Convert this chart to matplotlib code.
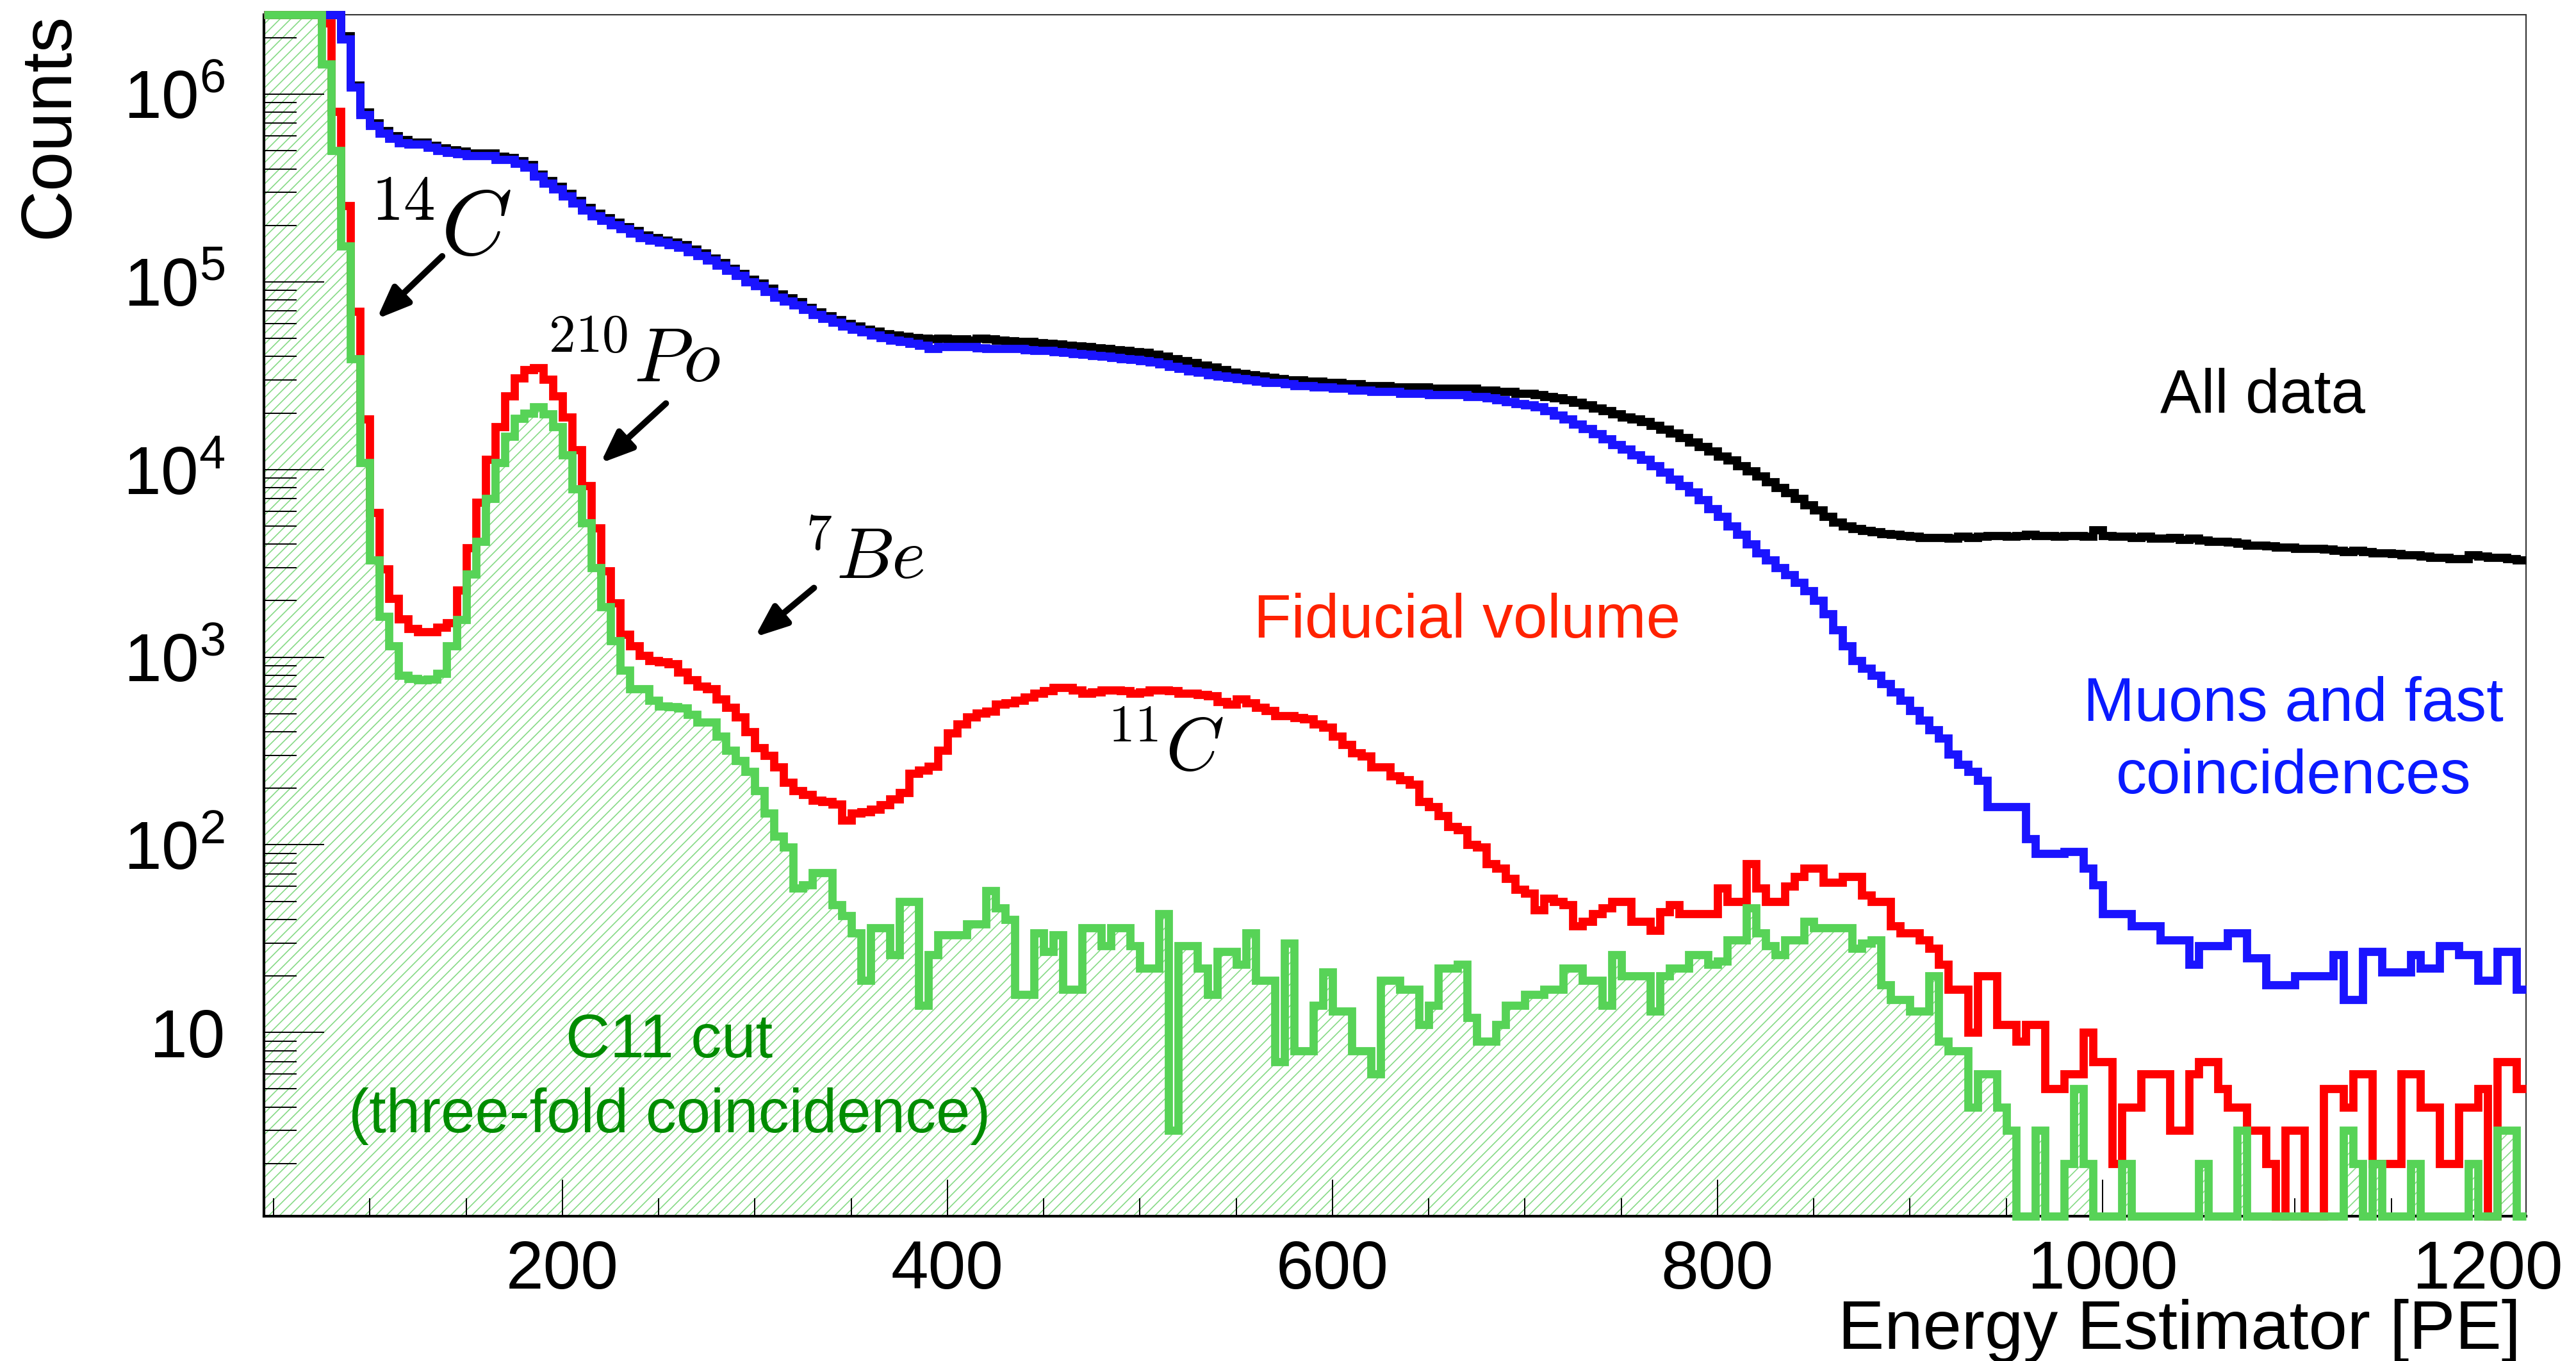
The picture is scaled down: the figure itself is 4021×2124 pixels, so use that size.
import numpy as np
import matplotlib
matplotlib.use("Agg")
import matplotlib.pyplot as plt
from matplotlib.ticker import FixedLocator, FuncFormatter, NullFormatter

plt.rcParams['font.family'] = ['Liberation Sans', 'DejaVu Sans']
plt.rcParams['mathtext.fontset'] = 'cm'
plt.rcParams['hatch.linewidth'] = 1.2
plt.rcParams['hatch.color'] = '#86da86'

# Histogram binning: 5 PE bins starting at 45 PE
FIRST_EDGE = 45
BIN_WIDTH = 5

# Counts per bin (rows of 10 bins = 50 PE); bins above the frame are stored large
all_data = [
    5e6, 5e6, 5e6, 5e6, 5e6, 5e6, 5e6, 5e6, 2.05e6, 1.12e6,
    8.0e5, 7.0e5, 6.4e5, 6.0e5, 5.7e5, 5.55e5, 5.55e5, 5.35e5, 5.15e5, 5.05e5,
    4.95e5, 4.85e5, 4.85e5, 4.85e5, 4.65e5, 4.6e5, 4.4e5, 4.2e5, 3.75e5, 3.45e5,
    3.22e5, 2.95e5, 2.7e5, 2.48e5, 2.32e5, 2.19e5, 2.07e5, 1.97e5, 1.87e5, 1.77e5,
    1.72e5, 1.67e5, 1.62e5, 1.57e5, 1.49e5, 1.42e5, 1.34e5, 1.26e5, 1.18e5, 1.11e5,
    1.03e5, 9.8e4, 9.2e4, 8.6e4, 8.2e4, 7.8e4, 7.3e4, 6.9e4, 6.6e4, 6.3e4,
    6.0e4, 5.8e4, 5.6e4, 5.45e4, 5.3e4, 5.2e4, 5.1e4, 5.05e4, 5.0e4, 4.95e4,
    5.0e4, 4.95e4, 4.95e4, 4.9e4, 5.0e4, 4.95e4, 4.9e4, 4.85e4, 4.8e4, 4.8e4,
    4.75e4, 4.7e4, 4.65e4, 4.6e4, 4.55e4, 4.5e4, 4.45e4, 4.4e4, 4.35e4, 4.3e4,
    4.25e4, 4.2e4, 4.1e4, 4.0e4, 3.9e4, 3.8e4, 3.7e4, 3.6e4, 3.5e4, 3.4e4,
    3.3e4, 3.25e4, 3.2e4, 3.15e4, 3.1e4, 3.05e4, 3.0e4, 3.0e4, 2.95e4, 2.95e4,
    2.9e4, 2.9e4, 2.85e4, 2.85e4, 2.8e4, 2.8e4, 2.8e4, 2.75e4, 2.75e4, 2.75e4,
    2.75e4, 2.7e4, 2.7e4, 2.7e4, 2.7e4, 2.7e4, 2.65e4, 2.65e4, 2.6e4, 2.6e4,
    2.55e4, 2.55e4, 2.5e4, 2.45e4, 2.4e4, 2.35e4, 2.28e4, 2.2e4, 2.12e4, 2.05e4,
    1.98e4, 1.9e4, 1.85e4, 1.8e4, 1.72e4, 1.64e4, 1.56e4, 1.48e4, 1.4e4, 1.32e4,
    1.25e4, 1.18e4, 1.12e4, 1.05e4, 9.8e3, 9.2e3, 8.6e3, 8.0e3, 7.5e3, 7.0e3,
    6.5e3, 6.1e3, 5.6e3, 5.25e3, 5.0e3, 4.85e3, 4.74e3, 4.65e3, 4.55e3, 4.5e3,
    4.45e3, 4.4e3, 4.35e3, 4.35e3, 4.35e3, 4.3e3, 4.4e3, 4.35e3, 4.4e3, 4.45e3,
    4.45e3, 4.4e3, 4.45e3, 4.5e3, 4.45e3, 4.45e3, 4.4e3, 4.45e3, 4.45e3, 4.4e3,
    4.75e3, 4.45e3, 4.4e3, 4.4e3, 4.35e3, 4.4e3, 4.3e3, 4.3e3, 4.35e3, 4.25e3,
    4.3e3, 4.2e3, 4.15e3, 4.15e3, 4.1e3, 4.05e3, 3.95e3, 3.95e3, 3.9e3, 3.85e3,
    3.85e3, 3.8e3, 3.8e3, 3.8e3, 3.75e3, 3.7e3, 3.65e3, 3.7e3, 3.65e3, 3.6e3,
    3.6e3, 3.55e3, 3.5e3, 3.5e3, 3.45e3, 3.4e3, 3.4e3, 3.35e3, 3.35e3, 3.5e3,
    3.45e3, 3.4e3, 3.4e3, 3.35e3, 3.3e3,
]

muon_fast_cut = [
    5e6, 5e6, 5e6, 5e6, 5e6, 5e6, 5e6, 5e6, 1.97e6, 1.09e6,
    7.8e5, 6.8e5, 6.2e5, 5.8e5, 5.5e5, 5.4e5, 5.4e5, 5.2e5, 5.0e5, 4.9e5,
    4.8e5, 4.7e5, 4.7e5, 4.7e5, 4.5e5, 4.5e5, 4.28e5, 4.08e5, 3.66e5, 3.36e5,
    3.13e5, 2.87e5, 2.63e5, 2.41e5, 2.25e5, 2.13e5, 2.01e5, 1.92e5, 1.82e5, 1.72e5,
    1.67e5, 1.62e5, 1.57e5, 1.53e5, 1.45e5, 1.38e5, 1.30e5, 1.23e5, 1.15e5, 1.08e5,
    1.0e5, 9.5e4, 8.9e4, 8.3e4, 7.9e4, 7.5e4, 7.1e4, 6.7e4, 6.4e4, 6.1e4,
    5.8e4, 5.6e4, 5.4e4, 5.2e4, 5.05e4, 4.9e4, 4.8e4, 4.7e4, 4.6e4, 4.4e4,
    4.5e4, 4.5e4, 4.5e4, 4.5e4, 4.45e4, 4.4e4, 4.4e4, 4.4e4, 4.4e4, 4.35e4,
    4.3e4, 4.3e4, 4.25e4, 4.2e4, 4.15e4, 4.1e4, 4.05e4, 4.0e4, 3.95e4, 3.9e4,
    3.85e4, 3.8e4, 3.75e4, 3.65e4, 3.55e4, 3.45e4, 3.35e4, 3.3e4, 3.2e4, 3.15e4,
    3.1e4, 3.05e4, 3.0e4, 2.95e4, 2.9e4, 2.9e4, 2.85e4, 2.8e4, 2.8e4, 2.75e4,
    2.75e4, 2.7e4, 2.7e4, 2.65e4, 2.65e4, 2.6e4, 2.6e4, 2.6e4, 2.55e4, 2.55e4,
    2.55e4, 2.5e4, 2.5e4, 2.5e4, 2.5e4, 2.45e4, 2.45e4, 2.4e4, 2.35e4, 2.3e4,
    2.25e4, 2.2e4, 2.15e4, 2.05e4, 1.95e4, 1.85e4, 1.75e4, 1.65e4, 1.55e4, 1.45e4,
    1.36e4, 1.28e4, 1.2e4, 1.13e4, 1.05e4, 9.7e3, 8.9e3, 8.2e3, 7.6e3, 6.9e3,
    6.2e3, 5.6e3, 5.0e3, 4.5e3, 4.0e3, 3.6e3, 3.3e3, 3.0e3, 2.75e3, 2.5e3,
    2.25e3, 2.0e3, 1.7e3, 1.4e3, 1.15e3, 960, 870, 800, 720, 650,
    590, 520, 460, 410, 370, 305, 268, 245, 221, 160,
    160, 160, 160, 108, 90, 90, 90, 92, 92, 75,
    61, 43, 43, 43, 37, 37, 37, 31, 31, 31,
    23, 29, 29, 29, 34, 34, 25, 25, 18, 18,
    18, 20, 20, 20, 20, 26, 15, 15, 27, 27,
    21, 21, 21, 26, 22, 22, 29, 29, 26, 26,
    19, 19, 27, 27, 17,
]

fiducial_volume = [
    5e6, 5e6, 5e6, 5e6, 5e6, 5e6, 2.4e6, 8.1e5, 2.55e5, 6.97e4,
    1.85e4, 5.9e3, 2.95e3, 2.05e3, 1.6e3, 1.42e3, 1.36e3, 1.36e3, 1.44e3, 1.52e3,
    2.27e3, 3.83e3, 6.7e3, 1.13e4, 1.69e4, 2.47e4, 3.08e4, 3.4e4, 3.47e4, 3.02e4,
    2.47e4, 1.9e4, 1.27e4, 8.2e3, 4.87e3, 2.89e3, 1.94e3, 1.32e3, 1.15e3, 1.02e3,
    960, 942, 923, 835, 755, 697, 680, 600, 540, 480,
    400, 330, 300, 260, 215, 195, 185, 172, 170, 165,
    135, 148, 150, 155, 164, 175, 190, 241, 250, 262,
    319, 394, 440, 480, 504, 515, 560, 570, 590, 610,
    644, 660, 690, 690, 670, 644, 650, 667, 667, 660,
    644, 650, 667, 667, 660, 644, 644, 630, 622, 580,
    560, 600, 570, 541, 520, 487, 487, 475, 470, 440,
    423, 380, 343, 310, 298, 260, 259, 233, 222, 210,
    170, 160, 143, 125, 120, 100, 97, 79, 75, 66,
    58, 55, 45, 52, 50, 48, 37, 39, 43, 46,
    50, 50, 39, 39, 35, 44, 48, 43, 43, 43,
    43, 59, 50, 50, 79, 59, 50, 50, 60, 68,
    75, 75, 63, 63, 68, 68, 54, 50, 50, 37,
    34, 34, 31, 28, 23, 17, 17, 10, 20, 20,
    11, 11, 9, 11, 11, 5, 5, 6, 6, 10,
    7, 7, 2, 4, 4, 6, 6, 6, 3, 3,
    6, 7, 7, 5, 4, 4, 3, 3, 2, 0,
    3, 3, 0, 0, 5, 5, 4, 6, 6, 2,
    2, 2, 6, 6, 4, 4, 2, 2, 4, 4,
    5, 0, 7, 7, 5,
]

c11_cut = [
    5e6, 5e6, 5e6, 5e6, 5e6, 5e6, 1.45e6, 5.0e5, 1.55e5, 3.9e4,
    1.09e4, 3.3e3, 1.65e3, 1.15e3, 800, 770, 755, 760, 820, 1150,
    1580, 2780, 4150, 7000, 1.09e4, 1.5e4, 1.87e4, 2.0e4, 2.15e4, 1.98e4,
    1.69e4, 1.2e4, 7900, 5200, 3000, 1860, 1220, 850, 680, 680,
    590, 550, 545, 535, 495, 450, 450, 380, 320, 280,
    245, 195, 148, 111, 97, 59, 61, 71, 71, 48,
    42, 34, 19, 36, 36, 26, 50, 50, 14, 26,
    33, 33, 33, 38, 38, 57, 46, 40, 16, 16,
    34, 27, 33, 17, 17, 36, 36, 29, 36, 36,
    29, 22, 22, 43, 3, 29, 29, 22, 16, 27,
    27, 23, 34, 19, 19, 7, 30, 8, 8, 14,
    21, 13, 13, 8, 8, 6, 19, 19, 17, 17,
    11, 14, 22, 22, 23, 12, 9, 9, 11, 14,
    14, 16, 16, 17, 17, 22, 22, 19, 19, 14,
    26, 20, 20, 20, 13, 20, 22, 22, 26, 26,
    23, 24, 31, 31, 46, 34, 29, 26, 31, 31,
    39, 36, 36, 36, 36, 28, 30, 31, 18, 15,
    15, 13, 13, 20, 9, 8, 8, 4, 6, 6,
    4, 3, 0, 0, 3, 0, 0, 2, 5, 2,
    0, 0, 0, 2, 0, 0, 0, 0, 0, 0,
    0, 2, 0, 0, 0, 3, 0, 0, 0, 0,
    0, 0, 0, 0, 0, 0, 3, 2, 0, 2,
    0, 0, 0, 2, 0, 0, 0, 0, 0, 2,
    0, 0, 3, 3, 0,
]

x_major_ticks = [200, 400, 600, 800, 1000, 1200]
y_major_ticks = [1e1, 1e2, 1e3, 1e4, 1e5, 1e6]

# ---------------------------------------------------------------- layout
W, H = 4021, 2124
fig = plt.figure(figsize=(W / 100, H / 100), dpi=100, facecolor='white')
LEFT, RIGHT, TOP, BOTTOM = 412, 3943, 23, 1898
ax = fig.add_axes([LEFT / W, 1 - BOTTOM / H, (RIGHT - LEFT) / W, (BOTTOM - TOP) / H])

XMIN, XMAX = 45, 1220
YMIN, YMAX = 1.05, 2.65e6
ax.set_xlim(XMIN, XMAX)
ax.set_yscale('log')
ax.set_ylim(YMIN, YMAX)

edges = FIRST_EDGE + BIN_WIDTH * np.arange(len(all_data) + 1)


def framed(values):
    # out-of-range bins are drawn on the frame edge
    return np.clip(np.asarray(values, dtype=float), YMIN, YMAX)


# hatched area under the C11-cut spectrum
ax.stairs(framed(c11_cut), edges, baseline=YMIN, fill=True,
          facecolor='none', edgecolor='#86da86', hatch='//', linewidth=0, zorder=1)

LW = 9.2
series = [
    (all_data, 'black', 3),
    (muon_fast_cut, '#1a14ff', 4),
    (fiducial_volume, '#ff0000', 5),
    (c11_cut, '#57d357', 6),
]
for values, color, z in series:
    ax.stairs(framed(values), edges, baseline=None, color=color, linewidth=LW,
              clip_on=False, zorder=z, joinstyle='miter')

# ---------------------------------------------------------------- axes style
for side in ('left', 'bottom'):
    ax.spines[side].set_linewidth(3.0)
for side in ('top', 'right'):
    ax.spines[side].set_linewidth(1.5)
    ax.spines[side].set_color('#333333')

ax.xaxis.set_major_locator(FixedLocator(x_major_ticks))
ax.xaxis.set_minor_locator(FixedLocator(np.arange(50, 1220, 50)))
ax.yaxis.set_major_locator(FixedLocator(y_major_ticks))
ax.yaxis.set_minor_locator(FixedLocator(
    [m * 10.0 ** e for e in range(0, 7) for m in range(2, 10)]))
ax.yaxis.set_minor_formatter(NullFormatter())


def decade_label(v, pos):
    n = int(round(np.log10(v)))
    return '10' if n == 1 else r'$\mathdefault{10^{%d}}$' % n


ax.yaxis.set_major_formatter(FuncFormatter(decade_label))

ax.tick_params(which='both', direction='in', top=False, right=False, color='black')
ax.tick_params(axis='x', which='major', length=41, width=1.4, pad=26, labelsize=76)
ax.tick_params(axis='x', which='minor', length=20, width=1.4)
ax.tick_params(axis='y', which='major', length=68, width=1.4, pad=44, labelsize=76)
ax.tick_params(axis='y', which='minor', length=37, width=1.4)

fig.text(77 / W, 1 - 20 / H, 'Counts', rotation=90, ha='center', va='top', fontsize=80)
fig.text(3935 / W, 1 - 2105 / H, 'Energy Estimator [PE]', ha='right', va='baseline', fontsize=78)

# ---------------------------------------------------------------- annotations
TXT = 69
fig.text(3532 / W, 1 - 644 / H, 'All data', ha='center', va='baseline', fontsize=TXT, color='black')
fig.text(3580 / W, 1 - 1125 / H, 'Muons and fast', ha='center', va='baseline', fontsize=TXT, color='#0a1aff')
fig.text(3580 / W, 1 - 1238 / H, 'coincidences', ha='center', va='baseline', fontsize=TXT, color='#0a1aff')
fig.text(1957 / W, 1 - 995 / H, 'Fiducial volume', ha='left', va='baseline', fontsize=TXT, color='#ff2200')
fig.text(1045 / W, 1 - 1650 / H, 'C11 cut', ha='center', va='baseline', fontsize=TXT, color='#008c00')
fig.text(1045 / W, 1 - 1767 / H, '(three-fold coincidence)', ha='center', va='baseline',
         fontsize=TXT, color='#008c00')

ax.text(99, 1.39e5, r'${}^{14}C$', fontsize=102, ha='left', va='baseline', zorder=8)
ax.text(191, 2.94e4, r'${}^{210}Po$', fontsize=86, ha='left', va='baseline', zorder=8)
ax.text(325, 2.63e3, r'${}^{7}Be$', fontsize=82, ha='left', va='baseline', zorder=8)
ax.text(482, 249, r'${}^{11}C$', fontsize=84, ha='left', va='baseline', zorder=8)

arrow_style = dict(arrowstyle='-|>,head_length=0.72,head_width=0.29', mutation_scale=42,
                   lw=7, color='black', shrinkA=0, shrinkB=0)
ax.annotate('', xy=(103.6, 6.34e4), xytext=(137.6, 1.37e5), arrowprops=arrow_style, zorder=8)
ax.annotate('', xy=(219.8, 1.08e4), xytext=(253.8, 2.25e4), arrowprops=arrow_style, zorder=8)
ax.annotate('', xy=(300.0, 1.28e3), xytext=(330.7, 2.34e3), arrowprops=arrow_style, zorder=8)

fig.savefig('out.png', dpi=100, facecolor='white')
